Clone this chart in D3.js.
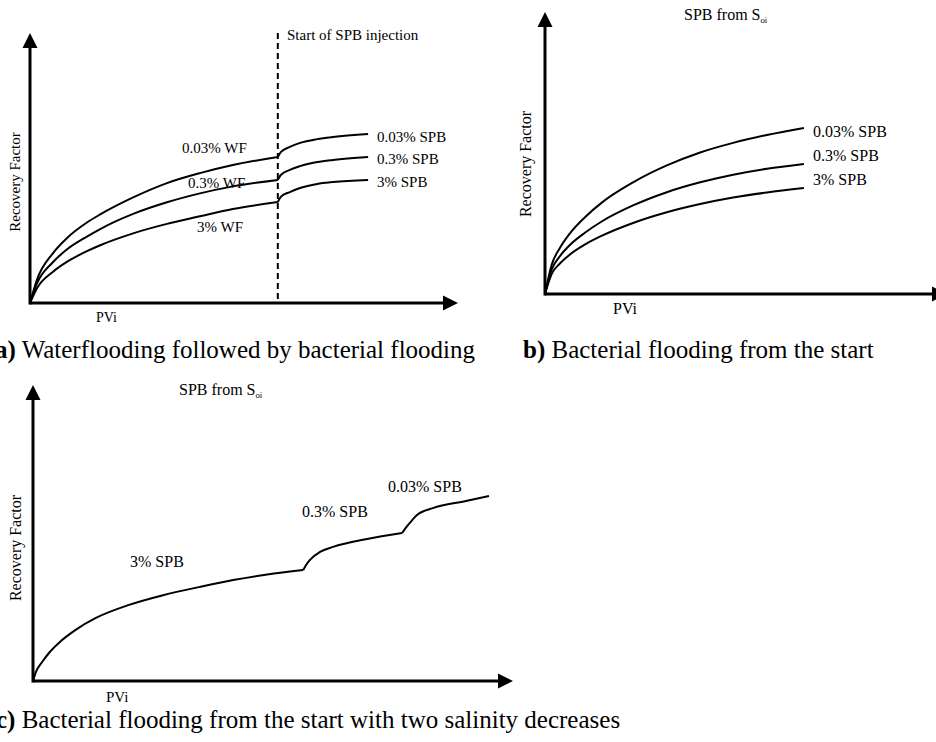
<!DOCTYPE html>
<meta charset="utf-8">
<script src="https://d3js.org/d3.v7.min.js"></script>
<style>
  body { margin: 0; background: #fff; }
  svg text { font-family: "Liberation Serif", "Times New Roman", serif; fill: #000; }
</style>
<div id="my_dataviz"></div>
<script>

// x = PVi, y = recovery factor (schematic, 0-100 units along each axis)

// panel a: waterflooding, then SPB from the injection point
var aInjection = 57.9;
var aWF003 = [[0,0],[1.6,8.5],[5.4,18.5],[8.6,24],[13.3,29.8],[16.4,32.8],[24.1,39.1],[32,44.4],[39.7,48.1],[47.4,51.1],[57.9,54.1]];
var aWF03  = [[0,0],[1.6,7.2],[5.4,15.2],[8.6,19.8],[13.3,24.6],[16.4,27.4],[24.1,33],[32,37.3],[39.7,40.6],[47.4,43.2],[57.9,45.6]];
var aWF3   = [[0,0],[1.6,5.4],[5.4,11.6],[8.6,15.2],[13.3,19.2],[16.4,21.4],[24.1,25.8],[32,29.3],[39.7,32.1],[47.4,34.8],[57.9,37.4]];
var aSPB003 = [[57.9,54.1],[58.6,55.9],[60.7,57.8],[63.1,59.3],[67.1,60.7],[70.8,61.5],[79,62.6]];
var aSPB03  = [[57.9,45.6],[58.6,47.4],[60.7,49.3],[63.1,50.7],[67.1,52.2],[70.8,53],[79,54.1]];
var aSPB3   = [[57.9,37.4],[58.6,39.3],[60.7,41.1],[63.1,42.6],[67.1,44.1],[70.8,44.8],[79,45.6]];

// panel b: SPB from the start
var bSPB003 = [[0,0],[1.7,10.5],[3.7,16.3],[6.2,21.5],[10,27.3],[14.2,32.5],[21.9,39.6],[30.3,45.6],[38.6,50.2],[46.8,53.6],[55.2,56.4],[64.4,58.9]];
var bSPB03  = [[0,0],[1.7,8.8],[3.7,13.4],[6.2,17.4],[10,21.8],[14.2,25.8],[21.9,31.4],[30.3,36.1],[38.6,39.6],[46.8,42.3],[55.2,44.4],[64.4,46.1]];
var bSPB3   = [[0,0],[1.7,7.2],[3.7,10.8],[6.2,14],[10,17.6],[14.2,20.7],[21.9,25.2],[30.3,29],[38.6,31.9],[46.8,34.2],[55.2,36],[64.4,37.6]];

// panel c: SPB with two salinity decreases
var cSPB3   = [[0,0],[0.6,3],[1.9,6.4],[3.5,9.8],[5.6,13.2],[8.8,17.2],[13.1,21.3],[20,25.7],[26.9,28.9],[34.8,31.8],[41.7,34.1],[48.8,36],[56.3,37.5]];
var cSPB03  = [[56.3,37.5],[56.9,39.2],[57.7,40.9],[59.8,43.6],[62.5,45.3],[69.6,48],[76.9,50]];
var cSPB003 = [[76.9,50],[77.5,51.4],[78.5,53.4],[80,56.1],[83.3,58.4],[90.2,60.8],[95,62.5]];

var svg = d3.select("#my_dataviz")
  .append("svg")
    .attr("width", 936)
    .attr("height", 742);

// build one schematic panel: origin, x arrow tip, y arrow tip
function makePanel(ox, oy, xTip, yTip) {
  var x = d3.scaleLinear().domain([0, 100]).range([ox, xTip]);
  var y = d3.scaleLinear().domain([0, 100]).range([oy, yTip]);
  var g = svg.append("g");
  // axes
  g.append("line")
    .attr("x1", x(0)).attr("y1", y(0))
    .attr("x2", x(100) - 12).attr("y2", y(0))
    .attr("stroke", "black").attr("stroke-width", 3);
  g.append("line")
    .attr("x1", x(0)).attr("y1", y(0) + 1.5)
    .attr("x2", x(0)).attr("y2", y(100) + 12)
    .attr("stroke", "black").attr("stroke-width", 3);
  // arrow heads
  g.append("path")
    .attr("d", "M" + x(100) + "," + y(0) + "L" + (x(100) - 15) + "," + (y(0) - 7.5) + "L" + (x(100) - 15) + "," + (y(0) + 7.5) + "Z")
    .attr("fill", "black");
  g.append("path")
    .attr("d", "M" + x(0) + "," + y(100) + "L" + (x(0) - 7.5) + "," + (y(100) + 15) + "L" + (x(0) + 7.5) + "," + (y(100) + 15) + "Z")
    .attr("fill", "black");
  var line = d3.line()
    .x(function(d) { return x(d[0]); })
    .y(function(d) { return y(d[1]); })
    .curve(d3.curveMonotoneX);
  return {g: g, x: x, y: y, line: line};
}

function addCurve(p, data) {
  p.g.append("path")
    .datum(data)
    .attr("fill", "none")
    .attr("stroke", "black")
    .attr("stroke-width", 2)
    .attr("stroke-linejoin", "round")
    .attr("d", p.line);
}

function addText(p, x, y, txt, size) {
  return p.g.append("text")
    .attr("x", x).attr("y", y)
    .style("font-size", size + "px")
    .text(txt);
}

function addYLabel(p, x, y, size) {
  p.g.append("text")
    .attr("transform", "translate(" + x + "," + y + ") rotate(-90)")
    .style("font-size", size + "px")
    .style("text-anchor", "middle")
    .text("Recovery Factor");
}

function addSoi(p, x, y, size) {
  var t = p.g.append("text").attr("x", x).attr("y", y).style("font-size", size + "px");
  t.append("tspan").text("SPB from S");
  t.append("tspan").attr("dy", 3).style("font-size", (size * 0.55) + "px").text("oi");
}

// ---- panel a
var pa = makePanel(30, 303, 458, 33);
pa.g.append("line")
  .attr("x1", pa.x(aInjection)).attr("x2", pa.x(aInjection))
  .attr("y1", pa.y(100)).attr("y2", pa.y(0))
  .attr("stroke", "black").attr("stroke-width", 2)
  .style("stroke-dasharray", "6, 4");
[aWF003, aWF03, aWF3, aSPB003, aSPB03, aSPB3].forEach(function(d) { addCurve(pa, d); });
addText(pa, 287, 40, "Start of SPB injection", 15);
addText(pa, 182, 153, "0.03% WF", 15);
addText(pa, 188, 188, "0.3% WF", 15);
addText(pa, 197, 232, "3% WF", 15);
addText(pa, 377, 142, "0.03% SPB", 15);
addText(pa, 377, 164, "0.3% SPB", 15);
addText(pa, 377, 187, "3% SPB", 15);
addText(pa, 96, 322, "PVi", 14);
addYLabel(pa, 20, 182, 15);

// ---- panel b
var pb = makePanel(545, 294, 947, 12);
[bSPB003, bSPB03, bSPB3].forEach(function(d) { addCurve(pb, d); });
addSoi(pb, 684, 20, 16);
addText(pb, 813, 137, "0.03% SPB", 16);
addText(pb, 813, 161, "0.3% SPB", 16);
addText(pb, 813, 185, "3% SPB", 16);
addText(pb, 613, 314, "PVi", 16);
addYLabel(pb, 531, 164, 16);

// ---- panel c
var pc = makePanel(33, 681, 513, 385);
[cSPB3, cSPB03, cSPB003].forEach(function(d) { addCurve(pc, d); });
addSoi(pc, 179, 395, 16);
addText(pc, 130, 567, "3% SPB", 16);
addText(pc, 302, 517, "0.3% SPB", 16);
addText(pc, 388, 492, "0.03% SPB", 16);
addText(pc, 106, 702, "PVi", 15);
addYLabel(pc, 21, 548, 16);

// captions
function caption(x, y, tag, txt) {
  var t = svg.append("text").attr("x", x).attr("y", y).style("font-size", "25px");
  t.append("tspan").style("font-weight", "bold").text(tag);
  t.append("tspan").text(" " + txt);
}
caption(-5, 358, "a)", "Waterflooding followed by bacterial flooding");
caption(523, 358, "b)", "Bacterial flooding from the start");
caption(-4, 728, "c)", "Bacterial flooding from the start with two salinity decreases");

</script>
